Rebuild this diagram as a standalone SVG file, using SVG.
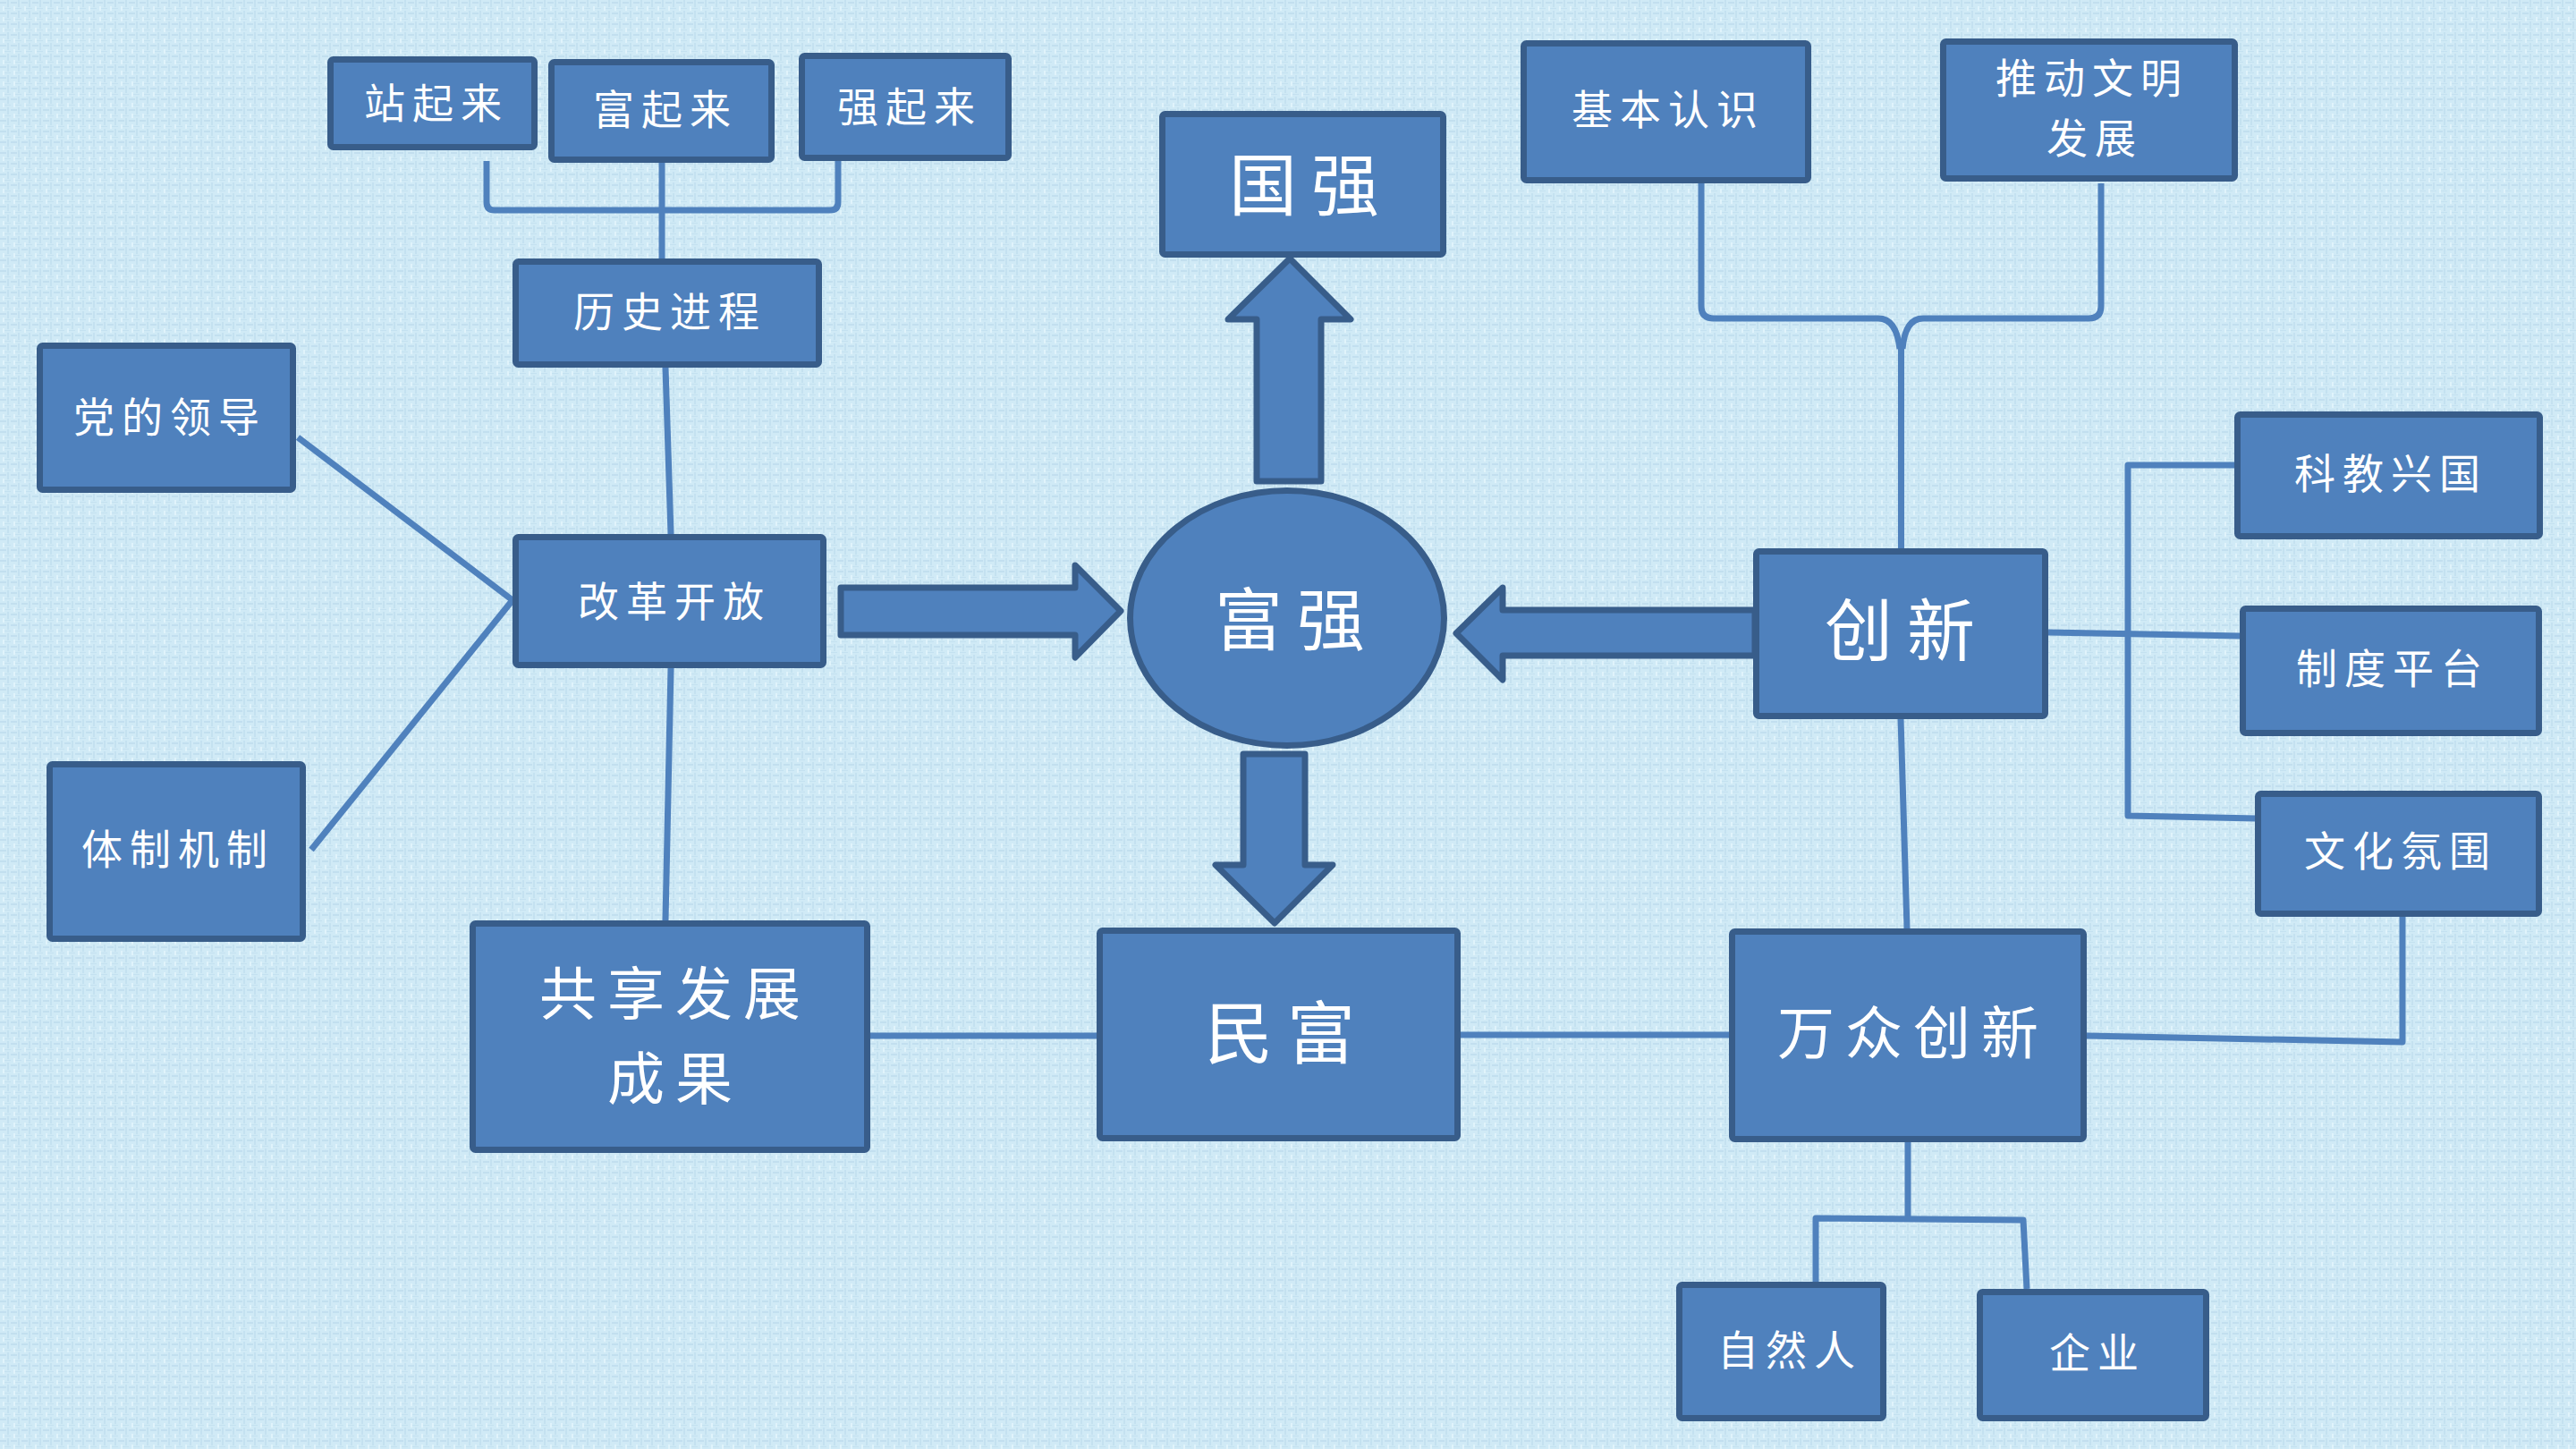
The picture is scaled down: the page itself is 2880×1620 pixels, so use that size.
<svg xmlns="http://www.w3.org/2000/svg" width="2880" height="1620" viewBox="0 0 2880 1620">
<defs>
<pattern id="tex" width="12" height="12" patternUnits="userSpaceOnUse">
<rect width="12" height="12" fill="#d0eaf6"/>
<rect x="0" y="2" width="7" height="2" fill="#bcdbed" opacity="0.7"/>
<rect x="8" y="0" width="2" height="8" fill="#bcdbed" opacity="0.6"/>
<rect x="3" y="7" width="2" height="5" fill="#e4f5fc" opacity="0.8"/>
<rect x="5" y="9" width="7" height="1" fill="#bcdbed" opacity="0.6"/>
</pattern>
<style>
.box{fill:#4F81BD;stroke:#385D8A;stroke-width:7;stroke-linejoin:round}
.arr{fill:#4F81BD;stroke:#385D8A;stroke-width:7;stroke-linejoin:round}
.ln{fill:none;stroke:#4F81BD;stroke-width:7;stroke-linecap:butt;stroke-linejoin:round}
text{fill:#ffffff;font-family:"Noto Sans CJK SC","Noto Sans CJK TC",sans-serif;text-anchor:middle;dominant-baseline:central}
.s{font-size:46px;letter-spacing:8px}
.m{font-size:64px;letter-spacing:12px}
.l{font-size:76px;letter-spacing:16px}
</style>
</defs>
<rect width="2880" height="1620" fill="url(#tex)"/>

<g id="connectors">
<path class="ln" d="M544 180 V226 Q544 235 553 235 H928 Q937 235 937 226 V180"/>
<path class="ln" d="M740 180 V290"/>
<path class="ln" d="M744 411 L750 597"/>
<path class="ln" d="M750 747 L744 1029"/>
<path class="ln" d="M333 489 L573 671"/>
<path class="ln" d="M348 950 L573 671"/>
<path class="ln" d="M973 1158 H1226"/>
<path class="ln" d="M1633 1157 H1933"/>
<path class="ln" d="M1902 205 V342 Q1902 356 1916 356 H2100 Q2120 356 2124 390"/>
<path class="ln" d="M2349 205 V342 Q2349 356 2335 356 H2150 Q2130 356 2127 390"/>
<path class="ln" d="M2125.5 380 V613"/>
<path class="ln" d="M2125 803 L2132 1038"/>
<path class="ln" d="M2290 707 L2505 711"/>
<path class="ln" d="M2498 520 H2379 V912 L2522 915"/>
<path class="ln" d="M2333 1158 L2686 1165 V1025"/>
<path class="ln" d="M2133 1277 V1362"/>
<path class="ln" d="M2030 1433 V1362 L2262 1364 L2266 1441"/>
<polygon class="arr" points="1405,538 1405,357 1373,357 1442,289 1510,357 1477,357 1477,538"/>
<polygon class="arr" points="940,657 1202,657 1202,632 1253,683 1202,735 1202,710 940,710"/>
<polygon class="arr" points="1962,682 1680,682 1680,657 1628,708 1680,760 1680,733 1962,733"/>
<polygon class="arr" points="1390,843 1459,843 1459,967 1490,967 1425,1032 1359,967 1390,967"/>
</g>

<g id="n-zhanqilai"><rect class="box" x="369.5" y="66.5" width="228" height="98" rx="3"/><text class="s" x="488" y="112">站起来</text></g>
<g id="n-fuqilai"><rect class="box" x="616.5" y="69.5" width="246" height="109" rx="3"/><text class="s" x="744" y="119">富起来</text></g>
<g id="n-qiangqilai"><rect class="box" x="896.5" y="62.5" width="231" height="114" rx="3"/><text class="s" x="1017" y="116">强起来</text></g>
<g id="n-lishijincheng"><rect class="box" x="576.5" y="292.5" width="339" height="115" rx="3"/><text class="s" x="749" y="345">历史进程</text></g>
<g id="n-dangdelingdao"><rect class="box" x="44.5" y="386.5" width="283" height="161" rx="3"/><text class="s" x="190" y="463">党的领导</text></g>
<g id="n-gaigekaifang"><rect class="box" x="576.5" y="600.5" width="344" height="143" rx="3"/><text class="s" x="754" y="669">改革开放</text></g>
<g id="n-tizhijizhi"><rect class="box" x="55.5" y="854.5" width="283" height="195" rx="3"/><text class="s" x="199" y="946">体制机制</text></g>
<g id="n-guoqiang"><rect class="box" x="1299.5" y="127.5" width="314" height="157" rx="3"/><text class="l" x="1466" y="202">国强</text></g>
<g id="n-fuqiang"><ellipse class="box" cx="1439" cy="691" rx="175.5" ry="142.5"/><text class="l" x="1450" y="688">富强</text></g>
<g id="n-gongxiang"><rect class="box" x="528.5" y="1032.5" width="441" height="253" rx="3"/><text class="m" x="755" y="1106">共享发展</text><text class="m" x="755" y="1201">成果</text></g>
<g id="n-minfu"><rect class="box" x="1229.5" y="1040.5" width="400" height="232" rx="3"/><text class="l" x="1439" y="1150">民富</text></g>
<g id="n-wanzhong"><rect class="box" x="1936.5" y="1041.5" width="393" height="232" rx="3"/><text class="m" x="2139" y="1150">万众创新</text></g>
<g id="n-jibenrenshi"><rect class="box" x="1703.5" y="48.5" width="318" height="153" rx="3"/><text class="s" x="1865" y="119">基本认识</text></g>
<g id="n-tuidong"><rect class="box" x="2172.5" y="46.5" width="326" height="153" rx="3"/><text class="s" x="2339" y="84">推动文明</text><text class="s" x="2342" y="151">发展</text></g>
<g id="n-chuangxin"><rect class="box" x="1963.5" y="616.5" width="323" height="184" rx="3"/><text class="l" x="2132" y="700">创新</text></g>
<g id="n-kejiao"><rect class="box" x="2501.5" y="463.5" width="338" height="136" rx="3"/><text class="s" x="2673" y="526">科教兴国</text></g>
<g id="n-zhidu"><rect class="box" x="2507.5" y="680.5" width="331" height="139" rx="3"/><text class="s" x="2675" y="744">制度平台</text></g>
<g id="n-wenhua"><rect class="box" x="2524.5" y="887.5" width="314" height="134" rx="3"/><text class="s" x="2684" y="948">文化氛围</text></g>
<g id="n-ziranren"><rect class="box" x="1877.5" y="1436.5" width="228" height="149" rx="3"/><text class="s" x="2001" y="1506">自然人</text></g>
<g id="n-qiye"><rect class="box" x="2213.5" y="1444.5" width="253" height="141" rx="3"/><text class="s" x="2345" y="1509">企业</text></g>
</svg>
